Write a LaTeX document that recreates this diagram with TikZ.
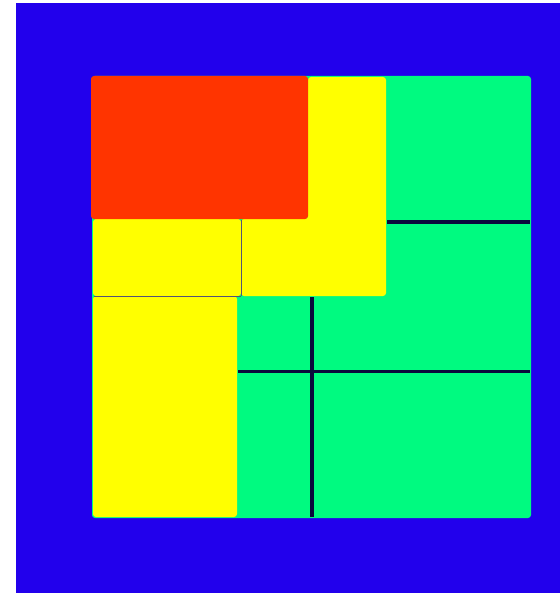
\documentclass[tikz,border=0pt]{standalone}
\usetikzlibrary{positioning}
\definecolor{boardblue}{RGB}{34,0,236}
\definecolor{tilered}{RGB}{255,52,0}
\definecolor{tileyellow}{RGB}{255,255,0}
\definecolor{tilegreen}{RGB}{0,250,128}
\definecolor{seam}{RGB}{10,10,60}
\tikzset{
  tile/.style={rounded corners=1.5pt},
  seamline/.style={seam, line width=1.6pt},
  thinseam/.style={seam!70, line width=0.5pt}
}
\begin{document}
\begin{tikzpicture}[x=0.5pt,y=-0.5pt]
\useasboundingbox (0,0) rectangle (560,593);
% Background
\fill[boardblue] (16,3) rectangle (560,593);

% Green tiles
\fill[tilegreen, tile] (92,76) rectangle (531,518);
\draw[seamline] (312,297) -- (312,517);
\draw[seamline] (238,371.5) -- (530,371.5);
\draw[seamline] (387,222) -- (530,222);
\fill[seam] (312,371.5) circle (2.2);

% Yellow tiles
\fill[tileyellow, tile] (93,296) rectangle (237,517);
\fill[tileyellow, tile] (93,219) rectangle (241,296);
\fill[tileyellow, tile] (308,77) -- (386,77) -- (386,296) -- (241,296) -- (241,219) -- (308,219) -- cycle;
\draw[thinseam] (241,220) -- (241,296);
\draw[thinseam] (94,296.5) -- (241,296.5);

% Red tile
\fill[tilered, tile] (91,76) rectangle (308,219);
\end{tikzpicture}
\end{document}
